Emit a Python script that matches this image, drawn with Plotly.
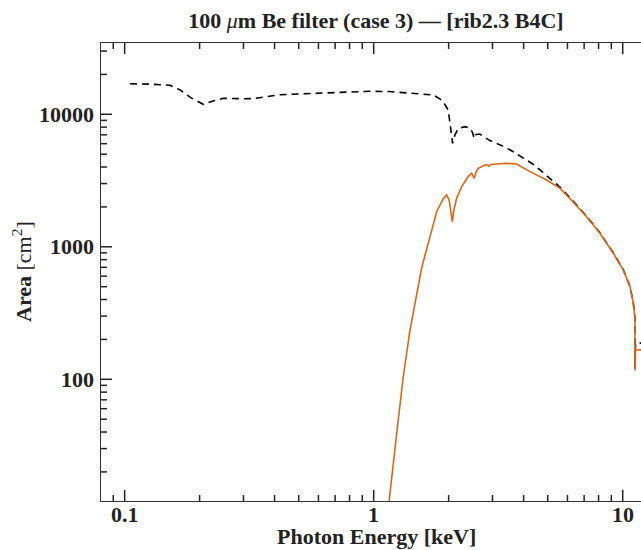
import math
import plotly.graph_objects as go

# ---- data ----
energy_nofilter = [0.105, 0.125, 0.152, 0.167, 0.185, 0.207, 0.23, 0.249, 0.30, 0.328,
                   0.421, 0.55, 0.689, 0.85, 0.966, 1.15, 1.357, 1.55, 1.734, 1.85,
                   1.90, 1.993, 2.04, 2.075, 2.12, 2.19, 2.326, 2.44, 2.50, 2.53,
                   2.56, 2.67, 2.93, 3.27, 3.58, 3.93, 4.31, 4.66, 5.11, 5.6,
                   6.31, 7.16, 8.1, 9.17, 10.06, 10.7, 11.03, 11.13, 11.2, 11.215,
                   11.26, 11.7, 12.5]
area_nofilter = [17000, 16900, 16550, 15250, 13300, 11900, 12700, 13200, 13100, 13130,
                 14060, 14350, 14550, 14800, 14920, 14850, 14560, 14300, 14000, 13000,
                 12450, 10770, 8060, 6040, 7000, 7840, 8060, 7840, 7200, 6590,
                 7000, 7090, 6330, 5800, 5310, 4790, 4270, 3800, 3290, 2820,
                 2220, 1700, 1275, 898, 670, 502, 377, 317, 290, 120,
                 187, 188, 186]

energy_befilter = [1.14, 1.155, 1.237, 1.315, 1.399, 1.488, 1.545, 1.56, 1.656, 1.79,
                   1.90, 1.963, 2.01, 2.07, 2.10, 2.153, 2.256, 2.40, 2.475, 2.535,
                   2.58, 2.63, 2.80, 2.85, 2.9, 2.95, 3.12, 3.42, 3.75, 4.24,
                   4.95, 5.6, 6.31, 7.16, 8.1, 9.17, 10.06, 10.7, 11.03, 11.13,
                   11.2, 11.215, 11.26, 11.7, 12.5]
area_befilter = [9, 12.3, 39, 105, 235, 445, 668, 700, 1061, 1840,
                 2300, 2460, 2250, 1545, 1900, 2320, 2845, 3400, 3590, 3290,
                 3700, 3910, 4140, 4160, 4060, 4180, 4215, 4270, 4215, 3690,
                 3190, 2760, 2190, 1685, 1264, 893, 668, 500, 375, 315,
                 290, 117, 166, 167, 166]

x_tick_vals = [0.1, 1, 10]
x_tick_text = ["0.1", "1", "10"]
y_tick_vals = [100, 1000, 10000]
y_tick_text = ["100", "1000", "10000"]

title_text = "<b>100 </b><i>μ</i><b>m Be filter (case 3) — [rib2.3 B4C]</b>"
x_title = "<b>Photon Energy [keV]</b>"
y_title = "<b>Area</b> [cm<sup>2</sup>]"

FONT = "Liberation Serif"
INK = "#222222"
AXC = "#333333"

X_RANGE = [-1.095, 1.0735]
Y_RANGE = [1.0815, 4.538]
PLOT_W, PLOT_H = 540, 458
MAJOR_LEN, MINOR_LEN = 11, 6

x_minor = [m * 10 ** k for k in (-2, -1, 0, 1) for m in range(2, 10)]
y_minor = [m * 10 ** k for k in (1, 2, 3, 4) for m in range(2, 10)]


def frac(v, rng):
    return (math.log10(v) - rng[0]) / (rng[1] - rng[0])


fig = go.Figure()
fig.add_trace(go.Scatter(x=energy_nofilter, y=area_nofilter, mode="lines",
                         line=dict(color="black", width=1.6, dash="7px,5px"),
                         showlegend=False))
fig.add_trace(go.Scatter(x=energy_befilter, y=area_befilter, mode="lines",
                         line=dict(color="#dd6614", width=1.6),
                         showlegend=False))

# tick marks (inside): bottom + top for x, left only for y
TICK_LINE = dict(color="#222222", width=1.5)
shapes = []
for vals, ln in ((x_tick_vals, MAJOR_LEN), (x_minor, MINOR_LEN)):
    for v in vals:
        f = frac(v, X_RANGE)
        if 0 <= f <= 1:
            h = ln / PLOT_H
            shapes.append(dict(type="line", xref="paper", yref="paper",
                               x0=f, x1=f, y0=0, y1=h, layer="above", line=TICK_LINE))
            shapes.append(dict(type="line", xref="paper", yref="paper",
                               x0=f, x1=f, y0=1, y1=1 - h, layer="above", line=TICK_LINE))
for vals, ln in ((y_tick_vals, MAJOR_LEN), (y_minor, MINOR_LEN)):
    for v in vals:
        f = frac(v, Y_RANGE)
        if 0 <= f <= 1:
            shapes.append(dict(type="line", xref="paper", yref="paper",
                               x0=0, x1=ln / PLOT_W, y0=f, y1=f, layer="above",
                               line=TICK_LINE))

annotations = []
for v, t in zip(x_tick_vals, x_tick_text):
    annotations.append(dict(text="<b>" + t + "</b>", xref="paper", yref="paper",
                            x=frac(v, X_RANGE), y=-(514 - 501) / PLOT_H,
                            xanchor="center", yanchor="middle", showarrow=False,
                            font=dict(family=FONT, size=22, color=INK)))
for v, t in zip(y_tick_vals, y_tick_text):
    annotations.append(dict(text="<b>" + t + "</b>", xref="paper", yref="paper",
                            x=-(101 - 96) / PLOT_W, y=frac(v, Y_RANGE),
                            xanchor="right", yanchor="middle", showarrow=False,
                            font=dict(family=FONT, size=22, color=INK)))
annotations.append(dict(text=x_title, xref="paper", yref="paper", x=(376 - 101) / PLOT_W,
                        y=-(536 - 501) / PLOT_H, xanchor="center", yanchor="middle",
                        showarrow=False, font=dict(family=FONT, size=22, color=INK)))
annotations.append(dict(text=y_title, xref="paper", yref="paper", x=(22 - 101) / PLOT_W,
                        y=0.5, xanchor="center", yanchor="middle", textangle=-90,
                        showarrow=False, font=dict(family=FONT, size=22, color=INK)))

fig.update_layout(
    xaxis=dict(type="log", range=X_RANGE, showgrid=False, zeroline=False,
               showline=True, linecolor=AXC, linewidth=1, mirror=True,
               ticks="", showticklabels=False),
    yaxis=dict(type="log", range=Y_RANGE, showgrid=False, zeroline=False,
               showline=True, linecolor=AXC, linewidth=1, mirror=False,
               ticks="", showticklabels=False),
    shapes=shapes,
    annotations=annotations,
    width=641, height=550,
    margin=dict(l=101, r=0, t=43, b=49),
    paper_bgcolor="white", plot_bgcolor="white",
    font=dict(family=FONT, color=INK),
    title=dict(text=title_text, xref="container", x=376 / 641, xanchor="center",
               yref="container", y=1 - 20 / 550, yanchor="middle",
               font=dict(family=FONT, size=22, color=INK)),
)

fig.write_html(
    "out.html",
    config={"displayModeBar": False},
    post_script="document.body.style.margin='0';document.body.style.padding='0';"
                "document.body.style.overflow='hidden';",
)
